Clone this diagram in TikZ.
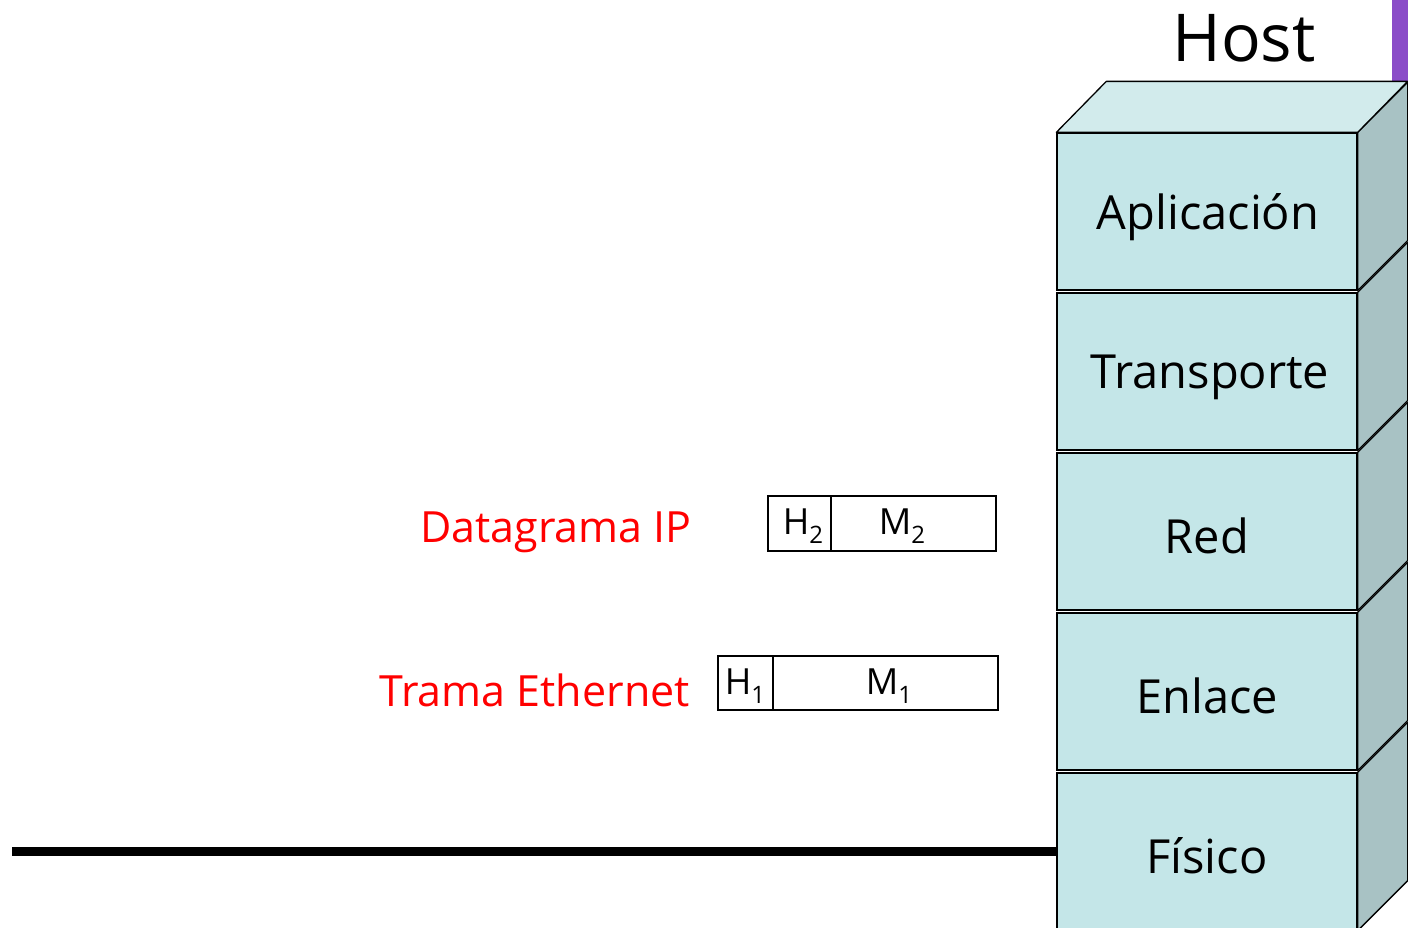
\documentclass[tikz,border=0pt]{standalone}
\usepackage{fontspec}
\setmainfont{Open Sans}
\usetikzlibrary{calc}
\definecolor{front}{HTML}{C4E6E8}
\definecolor{topf}{HTML}{D2EBEC}
\definecolor{sidef}{HTML}{A8C2C4}
\definecolor{purp}{HTML}{8A4CC8}
\newcommand{\pktsub}[1]{\raisebox{-9pt}{\fontsize{24}{28}\selectfont #1}}
\begin{document}
\begin{tikzpicture}[x=1pt,y=-1pt,
  layer/.style={draw, fill=front, minimum width=300pt, minimum height=157pt, inner sep=0pt, line width=1.3pt},
  layerlbl/.style={inner sep=0pt, font=\fontsize{47}{52}\selectfont},
  sideface/.style={draw, fill=sidef, line width=1.3pt, line join=round},
  topface/.style={draw, fill=topf, line width=1.3pt, line join=round},
  redlbl/.style={text=red, font=\fontsize{43}{48}\selectfont, inner sep=0pt},
  pkt/.style={draw, line width=1.2pt, inner sep=0pt},
  pkttxt/.style={inner sep=0pt, font=\fontsize{36}{40}\selectfont}]
\useasboundingbox (0,0) rectangle (1408,927);
\begin{scope}
\clip (0,0) rectangle (1408,927);
\fill[purp] (1392,0) rectangle (1408,90);
% layers
\node[layer] (fis) at (1207,851.5) {};
\node[layer] (enl) at (1207,691.5) {};
\node[layer] (red) at (1207,531.5) {};
\node[layer] (tra) at (1207,371.5) {};
\node[layer] (apl) at (1207,211.5) {};
\foreach \n in {fis,enl,red,tra,apl}{
  \draw[sideface] (\n.north east) -- ++(50,-50) -- ($(\n.south east)+(50,-50)$) -- (\n.south east) -- cycle;
}
\draw[topface] (apl.north west) -- ++(50,-51) -- ($(apl.north east)+(50,-51)$) -- (apl.north east) -- cycle;
\node[layerlbl] (tapl) at ($(apl.center)+(1,6)$) {Aplicación};
\node[layerlbl] (ttra) at ($(tra.center)+(3,6)$) {Transporte};
\node[layerlbl] (tred) at ($(red.center)+(0,4)$) {Red};
\node[layerlbl] (tenl) at ($(enl.center)+(0,4)$) {Enlace};
\node[layerlbl] (tfis) at ($(fis.center)+(0,4)$) {Físico};
\node[font=\fontsize{66}{72}\selectfont, inner sep=0pt] (host) at (1244,38) {Host};
% physical line
\coordinate (lstart) at (12,851);
\draw[line width=9pt] (lstart) -- (lstart -| fis.west);
% packets
\node[pkt, minimum width=228pt, minimum height=55pt] (dg) at (882,523.5) {};
\draw[line width=1.2pt] (831,496) coordinate (d2a) -- (831,551) coordinate (d2b);
\node[pkttxt] (h2) at (803,526) {H\pktsub{2}};
\node[pkttxt] (m2) at (902,526) {M\pktsub{2}};
\node[pkt, minimum width=280pt, minimum height=54pt] (tr) at (858,683) {};
\draw[line width=1.2pt] (773,656) coordinate (d1a) -- (773,710) coordinate (d1b);
\node[pkttxt] (h1) at (745,686) {H\pktsub{1}};
\node[pkttxt] (m1) at (889,686) {M\pktsub{1}};
\node[redlbl, anchor=east] (dglbl) at (692,532) {Datagrama IP};
\node[redlbl, anchor=east] (trlbl) at (690,690) {Trama Ethernet};
\end{scope}
\end{tikzpicture}
\end{document}
